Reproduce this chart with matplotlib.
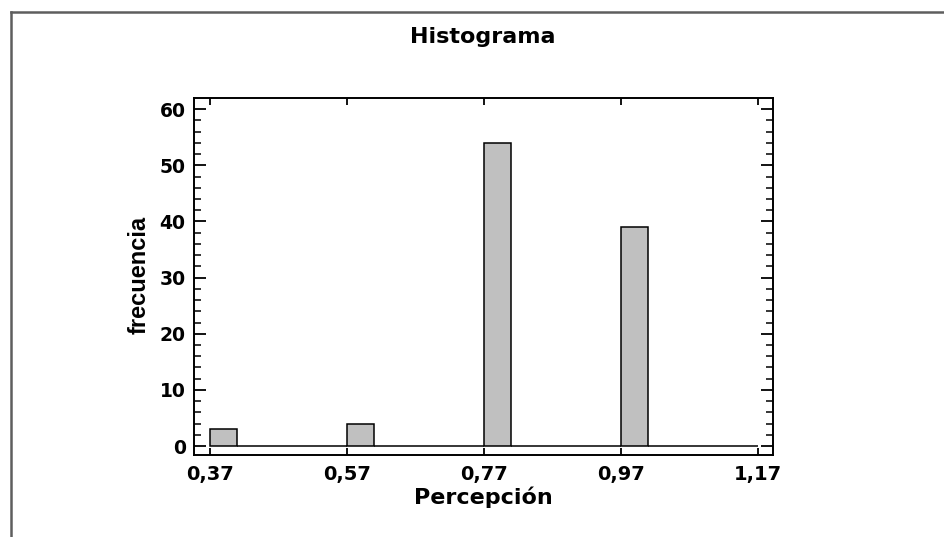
import numpy as np
import matplotlib
matplotlib.use("Agg")
import matplotlib.pyplot as plt
from matplotlib.lines import Line2D

# ---------------------
# data
# ---------------------
bin_start = 0.37
bin_stop = 1.17
counts = [3, 0, 0, 0, 0, 4, 0, 0, 0, 0, 54, 0, 0, 0, 0, 39, 0, 0, 0, 0]
x_ticks = [0.37, 0.57, 0.77, 0.97, 1.17]
x_labels = ["0,37", "0,57", "0,77", "0,97", "1,17"]
y_ticks = [0, 10, 20, 30, 40, 50, 60]

title = "Histograma"
x_title = "Percepción"
y_title = "frecuencia"

# ---------------------
# figure
# ---------------------
plt.rcParams["font.family"] = ["DejaVu Sans"]
plt.rcParams["font.weight"] = "bold"

W, H = 945, 537
fig = plt.figure(figsize=(W / 100, H / 100), dpi=100)

# outer gray frame (clipped by the image on right/bottom)
frame_col = "#5e5e5e"
fig.add_artist(Line2D([11 / W, 1.0], [1 - 12 / H, 1 - 12 / H], color=frame_col, lw=1.8))
fig.add_artist(Line2D([11 / W, 11 / W], [0.0, 1 - 12 / H], color=frame_col, lw=1.8))

ax = fig.add_axes([194 / W, 1 - 455 / H, (773 - 194) / W, (455 - 98) / H])

edges = np.linspace(bin_start, bin_stop, len(counts) + 1)
ax.bar(edges[:-1], counts, width=np.diff(edges), align="edge",
       color="#c0c0c0", edgecolor="black", linewidth=1.1)

ax.set_xlim(0.347, 1.192)
ax.set_ylim(-1.6, 62)

ax.set_xticks(x_ticks)
ax.set_xticklabels(x_labels)
ax.set_yticks(y_ticks)
ax.set_yticks(np.arange(0, 62, 2), minor=True)

ax.tick_params(axis="x", which="major", direction="in", length=5, width=1.3,
               top=True, labelsize=14, pad=7)
ax.tick_params(axis="x", which="minor", bottom=False, top=False)
ax.tick_params(axis="y", which="major", direction="in", length=8.5, width=1.3,
               right=True, labelsize=13.5, pad=6)
ax.tick_params(axis="y", which="minor", direction="in", length=4.8, width=1.1,
               right=True)
for lab in ax.get_xticklabels() + ax.get_yticklabels():
    lab.set_fontweight("bold")

for sp in ax.spines.values():
    sp.set_linewidth(1.4)

fig.text(483 / W, 1 - 37 / H, title, ha="center", va="center",
         fontsize=16, fontweight="bold")
fig.text(483 / W, 1 - 497 / H, x_title, ha="center", va="center",
         fontsize=16, fontweight="bold")
fig.text(139 / W, 1 - 275 / H, y_title, ha="center", va="center", rotation=90,
         fontsize=17, fontweight="bold",
         family=["Liberation Sans Narrow", "Liberation Sans", "DejaVu Sans"])

fig.savefig("out.png", dpi=100)
